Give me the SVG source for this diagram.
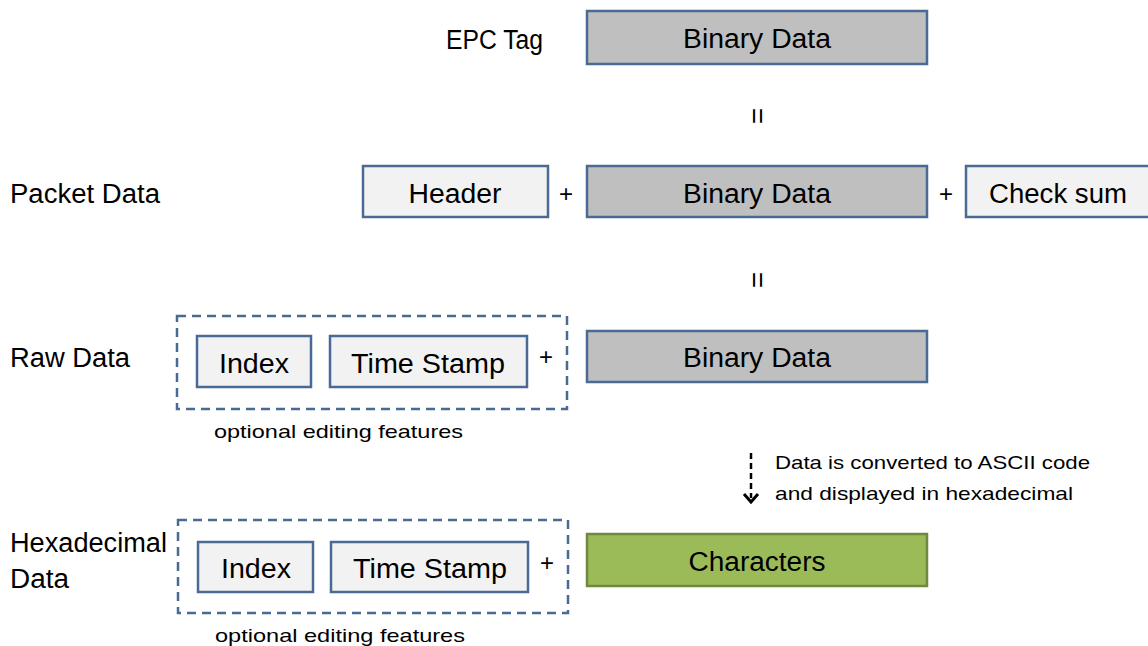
<svg xmlns="http://www.w3.org/2000/svg" width="1148" height="646" viewBox="0 0 1148 646">
<style>
text{font-family:"Liberation Sans",Arial,sans-serif;fill:#000}
.lbl{font-size:27px}
.box{font-size:27px;text-anchor:middle}
.plus{font-size:24px;text-anchor:middle}
.eq{font-size:28px;text-anchor:middle}
.small{font-size:19px}
.gray{fill:#BFBFBF;stroke:#4A6A96;stroke-width:2.5}
.light{fill:#F2F2F2;stroke:#4A6A96;stroke-width:2.5}
.green{fill:#9BBB59;stroke:#71893F;stroke-width:2.5}
.dash{fill:none;stroke:#4A6A96;stroke-width:2.5;stroke-dasharray:9 6}
</style>
<rect width="1148" height="646" fill="#FFFFFF"/>

<g id="row-labels">
<text class="lbl" x="446" y="49" textLength="97" lengthAdjust="spacingAndGlyphs">EPC Tag</text>
<text class="lbl" x="10" y="203" textLength="150" lengthAdjust="spacingAndGlyphs">Packet Data</text>
<text class="lbl" x="10" y="367" textLength="120" lengthAdjust="spacingAndGlyphs">Raw Data</text>
<text class="lbl" x="10" y="552" textLength="157" lengthAdjust="spacingAndGlyphs">Hexadecimal</text>
<text class="lbl" x="10" y="588" textLength="59" lengthAdjust="spacingAndGlyphs">Data</text>
</g>

<g id="epc-binary">
<rect class="gray" x="587" y="11" width="340" height="53"/>
<text class="box" x="757" y="48" textLength="148" lengthAdjust="spacingAndGlyphs">Binary Data</text>
</g>

<g id="packet-header">
<rect class="light" x="363" y="166" width="185" height="51"/>
<text class="box" x="455" y="203" textLength="93" lengthAdjust="spacingAndGlyphs">Header</text>
</g>
<g id="packet-binary">
<rect class="gray" x="587" y="166" width="340" height="51"/>
<text class="box" x="757" y="203" textLength="148" lengthAdjust="spacingAndGlyphs">Binary Data</text>
</g>
<g id="packet-checksum">
<rect class="light" x="966" y="166" width="190" height="51"/>
<text class="lbl" x="989" y="203" textLength="138" lengthAdjust="spacingAndGlyphs">Check sum</text>
</g>

<g id="raw-optional">
<rect class="dash" x="177" y="316" width="390" height="93"/>
<text class="small" x="214" y="438" textLength="249" lengthAdjust="spacingAndGlyphs">optional editing features</text>
</g>
<g id="raw-index">
<rect class="light" x="197" y="336" width="114" height="51"/>
<text class="box" x="254" y="373" textLength="70" lengthAdjust="spacingAndGlyphs">Index</text>
</g>
<g id="raw-timestamp">
<rect class="light" x="330" y="336" width="197" height="51"/>
<text class="box" x="428" y="373" textLength="154" lengthAdjust="spacingAndGlyphs">Time Stamp</text>
</g>
<g id="raw-binary">
<rect class="gray" x="587" y="331" width="340" height="51"/>
<text class="box" x="757" y="367" textLength="148" lengthAdjust="spacingAndGlyphs">Binary Data</text>
</g>

<g id="hex-optional">
<rect class="dash" x="178" y="520" width="390" height="93"/>
<text class="small" x="215" y="642" textLength="250" lengthAdjust="spacingAndGlyphs">optional editing features</text>
</g>
<g id="hex-index">
<rect class="light" x="198" y="542" width="115" height="50"/>
<text class="box" x="256" y="578" textLength="70" lengthAdjust="spacingAndGlyphs">Index</text>
</g>
<g id="hex-timestamp">
<rect class="light" x="331" y="542" width="197" height="50"/>
<text class="box" x="430" y="578" textLength="154" lengthAdjust="spacingAndGlyphs">Time Stamp</text>
</g>
<g id="hex-characters">
<rect class="green" x="587" y="534" width="340" height="52"/>
<text class="box" x="757" y="571" textLength="137" lengthAdjust="spacingAndGlyphs">Characters</text>
</g>

<g id="connectors">
<text class="eq" transform="translate(757,116) rotate(90)" y="9">=</text>
<text class="eq" transform="translate(757,280) rotate(90)" y="9">=</text>
<text class="plus" x="566" y="202">+</text>
<text class="plus" x="946" y="202">+</text>
<text class="plus" x="546" y="365">+</text>
<text class="plus" x="547" y="571">+</text>
<line x1="751" y1="453" x2="751" y2="498" stroke="#000" stroke-width="2.5" stroke-dasharray="6 4"/>
<polyline points="744,494 751,502 758,494" fill="none" stroke="#000" stroke-width="3"/>
<text class="small" x="775" y="469" textLength="315" lengthAdjust="spacingAndGlyphs">Data is converted to ASCII code</text>
<text class="small" x="775" y="500" textLength="298" lengthAdjust="spacingAndGlyphs">and displayed in hexadecimal</text>
</g>
</svg>
